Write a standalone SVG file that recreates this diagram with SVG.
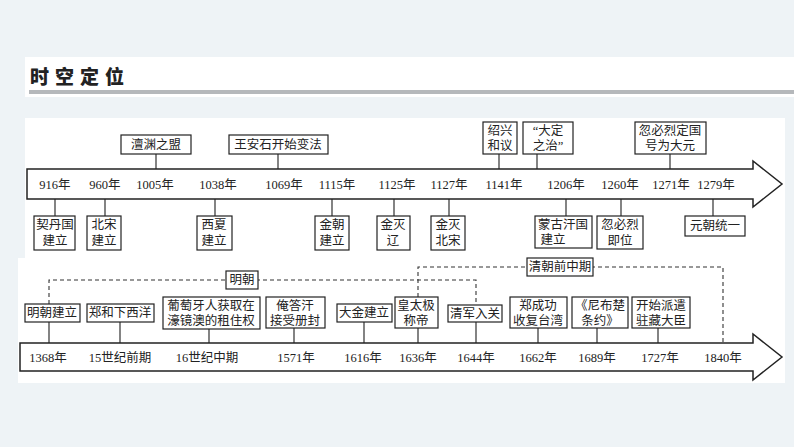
<svg xmlns="http://www.w3.org/2000/svg" width="794" height="447" viewBox="0 0 794 447">
<style>
text{font-family:"Liberation Serif","Noto Sans CJK SC",serif;font-size:12.5px;fill:#222;text-anchor:middle}
.b{fill:#fff;stroke:#222;stroke-width:1.2}
.ln{stroke:#333;stroke-width:1.2;fill:none}
.d{stroke:#333;stroke-width:1.1;fill:none;stroke-dasharray:4 3}
.ar{fill:#fff;stroke:#222;stroke-width:1.5}
</style>
<rect width="794" height="447" fill="#eef3f6"/>
<rect x="25" y="57" width="769" height="40" fill="#fff"/>
<rect x="25" y="118" width="760" height="140" fill="#fff"/>
<rect x="18" y="258" width="767" height="125" fill="#fff"/>
<text x="30" y="84" style="font-family:'Noto Sans CJK SC',sans-serif;font-weight:900;font-size:19px;text-anchor:start;letter-spacing:6px">时空定位</text>
<rect x="29" y="90" width="765" height="4" fill="#b5b8bb"/>
<g id="connectors">
<path class="ln" d="M156 154V169M278 154V169M499 154V169M537 154V169M670 154V169M55 199V216M105 199V216M215 199V216M332 199V216M394 199V216M449 199V216M566 199V216M621 199V216M713 199V216"/>
<path class="ln" d="M49 322V343M120 322V343M209 329V343M294 328V343M364 322V343M418 328V343M476 322V343M538 328V343M597 328V343M658 328V343"/>
<path class="d" d="M49 304V280H476V305M418 297V267H723V343"/>
</g>
<g id="axis1"><path class="ar" d="M27 169H753V161L782 184L753 207V199H27Z"/>
<text x="55" y="189">916年</text><text x="105" y="189">960年</text><text x="155" y="189">1005年</text><text x="218" y="189">1038年</text><text x="284" y="189">1069年</text><text x="337" y="189">1115年</text><text x="397" y="189">1125年</text><text x="449" y="189">1127年</text><text x="504" y="189">1141年</text><text x="566" y="189">1206年</text><text x="620" y="189">1260年</text><text x="671" y="189">1271年</text><text x="716" y="189">1279年</text></g>
<g id="axis2"><path class="ar" d="M20 343H753V334L782 357L753 380V371H20Z"/>
<text x="48" y="362">1368年</text><text x="120" y="362">15世纪前期</text><text x="207" y="362">16世纪中期</text><text x="296" y="362">1571年</text><text x="363" y="362">1616年</text><text x="418" y="362">1636年</text><text x="476" y="362">1644年</text><text x="538" y="362">1662年</text><text x="597" y="362">1689年</text><text x="660" y="362">1727年</text><text x="723" y="362">1840年</text></g>
<g id="n1"><rect class="b" x="121" y="135" width="70" height="19"/><text x="156" y="149">澶渊之盟</text></g>
<g id="n2"><rect class="b" x="229" y="135" width="99" height="19"/><text x="278" y="149">王安石开始变法</text></g>
<g id="n3"><rect class="b" x="483" y="122" width="34" height="32"/><text x="500" y="135">绍兴</text><text x="500" y="150">和议</text></g>
<g id="n4"><rect class="b" x="523" y="122" width="50" height="32"/><text x="548" y="135">“大定</text><text x="548" y="150">之治”</text></g>
<g id="n5"><rect class="b" x="635" y="122" width="71" height="32"/><text x="670" y="135">忽必烈定国</text><text x="670" y="150">号为大元</text></g>
<g id="n6"><rect class="b" x="34" y="216" width="41" height="34"/><text x="55" y="229">契丹国</text><text x="55" y="245">建立</text></g>
<g id="n7"><rect class="b" x="87" y="216" width="34" height="34"/><text x="104" y="229">北宋</text><text x="104" y="245">建立</text></g>
<g id="n8"><rect class="b" x="197" y="216" width="35" height="34"/><text x="214" y="229">西夏</text><text x="214" y="245">建立</text></g>
<g id="n9"><rect class="b" x="315" y="216" width="34" height="34"/><text x="332" y="229">金朝</text><text x="332" y="245">建立</text></g>
<g id="n10"><rect class="b" x="377" y="216" width="33" height="34"/><text x="393" y="229">金灭</text><text x="393" y="245">辽</text></g>
<g id="n11"><rect class="b" x="431" y="216" width="34" height="34"/><text x="448" y="229">金灭</text><text x="448" y="245">北宋</text></g>
<g id="n12"><rect class="b" x="535" y="216" width="57" height="32"/><text x="563" y="229">蒙古汗国</text><text x="553" y="244">建立</text></g>
<g id="n13"><rect class="b" x="597" y="216" width="46" height="33"/><text x="620" y="229">忽必烈</text><text x="620" y="245">即位</text></g>
<g id="n14"><rect class="b" x="685" y="216" width="60" height="20"/><text x="715" y="230">元朝统一</text></g>
<g id="m0"><rect class="b" x="226" y="271" width="32" height="18"/><text x="242" y="284">明朝</text></g>
<g id="q0"><rect class="b" x="527" y="258" width="66" height="18"/><text x="560" y="271">清朝前中期</text></g>
<g id="m1"><rect class="b" x="25" y="304" width="55" height="18"/><text x="52" y="317">明朝建立</text></g>
<g id="m2"><rect class="b" x="87" y="304" width="67" height="18"/><text x="120" y="317">郑和下西洋</text></g>
<g id="m3"><rect class="b" x="163" y="297" width="97" height="32"/><text x="211" y="310">葡萄牙人获取在</text><text x="211" y="325">濠镜澳的租住权</text></g>
<g id="m4"><rect class="b" x="266" y="297" width="59" height="31"/><text x="295" y="310">俺答汗</text><text x="295" y="325">接受册封</text></g>
<g id="m5"><rect class="b" x="337" y="304" width="55" height="18"/><text x="364" y="317">大金建立</text></g>
<g id="m6"><rect class="b" x="395" y="297" width="43" height="31"/><text x="416" y="310">皇太极</text><text x="416" y="325">称帝</text></g>
<g id="m7"><rect class="b" x="448" y="305" width="54" height="17"/><text x="475" y="318">清军入关</text></g>
<g id="m8"><rect class="b" x="510" y="297" width="57" height="31"/><text x="538" y="310">郑成功</text><text x="538" y="325">收复台湾</text></g>
<g id="m9"><rect class="b" x="572" y="297" width="56" height="31"/><text x="600" y="310">《尼布楚</text><text x="600" y="325">条约》</text></g>
<g id="m10"><rect class="b" x="632" y="297" width="58" height="31"/><text x="661" y="310">开始派遣</text><text x="661" y="325">驻藏大臣</text></g>
</svg>
